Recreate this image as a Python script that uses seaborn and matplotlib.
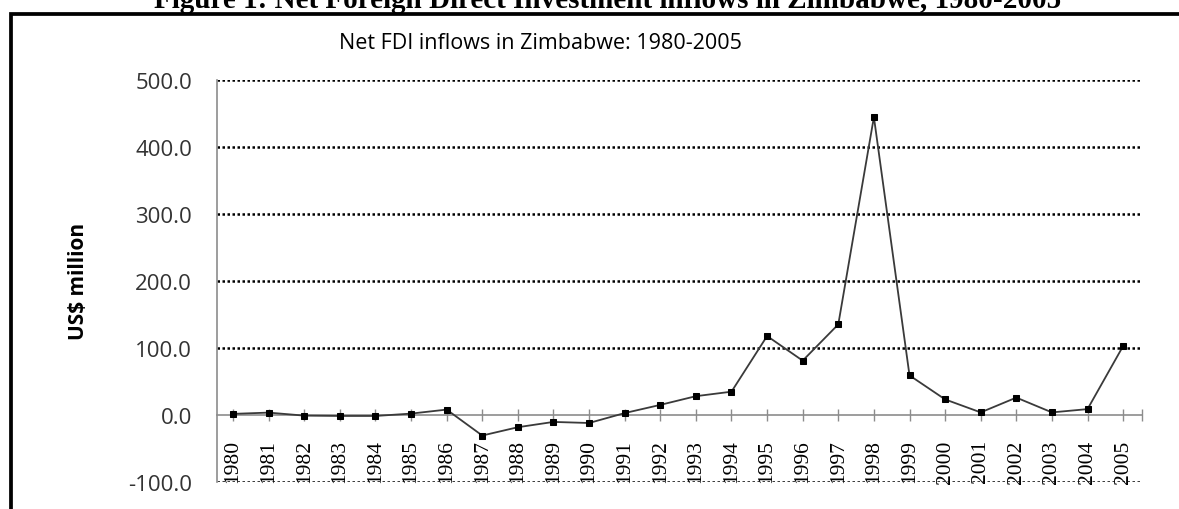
import matplotlib
matplotlib.use("Agg")
import matplotlib.pyplot as plt
from matplotlib.lines import Line2D
import seaborn as sns
import pandas as pd

# Net FDI inflows, Zimbabwe (US$ million)
years = ["1980", "1981", "1982", "1983", "1984", "1985", "1986", "1987", "1988",
         "1989", "1990", "1991", "1992", "1993", "1994", "1995", "1996", "1997",
         "1998", "1999", "2000", "2001", "2002", "2003", "2004", "2005"]
fdi = [1.6, 3.5, -1.0, -1.5, -1.5, 2.0, 8.0, -30.7, -18.3, -10.4, -12.0, 2.8,
       15.0, 28.0, 34.7, 117.7, 81.0, 135.1, 444.3, 59.0, 23.2, 3.8, 25.9, 3.8,
       8.7, 102.8]
y_ticks = [-100, 0, 100, 200, 300, 400, 500]
y_tick_labels = ["-100.0", "0.0", "100.0", "200.0", "300.0", "400.0", "500.0"]

chart_title = "Net FDI inflows in Zimbabwe: 1980-2005"
figure_caption = "Figure 1: Net Foreign Direct Investment inflows in Zimbabwe, 1980-2005"
y_label = "US$ million"

sns.set_style("white")
plt.rcParams["font.family"] = ["Open Sans", "DejaVu Sans"]

W, H = 1179, 510
fig = plt.figure(figsize=(W / 100, H / 100), dpi=100)
ax = fig.add_axes([217 / W, 1 - 483 / H, (1142 - 217) / W, (483 - 80.7) / H])

df = pd.DataFrame({"pos": range(len(years)), "value": fdi})
sns.lineplot(data=df, x="pos", y="value", ax=ax, color="#3a3a3a", linewidth=1.3,
             marker="s", markersize=5, markerfacecolor="black",
             markeredgecolor="black", zorder=4)

x_right = len(years) - 1 + 0.53
ax.set_xlim(-0.45, x_right)
ax.set_ylim(-100, 500)

# spines: the category axis crosses at zero
ax.spines["bottom"].set_position(("data", 0))
ax.spines["bottom"].set_color("#8c8c8c")
ax.spines["bottom"].set_linewidth(1.2)
ax.spines["left"].set_color("#8c8c8c")
ax.spines["left"].set_linewidth(1.2)
ax.spines["top"].set_visible(False)
ax.spines["right"].set_visible(False)

# tick styling
ax.tick_params(axis="y", left=False, length=0, pad=18)
ax.tick_params(axis="x", which="both", bottom=True, direction="inout", length=8,
               width=1, color="#8c8c8c", pad=13.5, labelrotation=90)

# horizontal dotted gridlines
ax.set_yticks(y_ticks)
ax.set_yticklabels(y_tick_labels, fontsize=16, color="#333333")
ax.yaxis.grid(True, color="black", linestyle=(0, (1, 1)), linewidth=1.8, zorder=0)
ax.xaxis.grid(False)
for val, gl in zip(y_ticks, ax.yaxis.get_gridlines()):
    if val == 0:
        gl.set_visible(False)

# year labels
ax.set_xticks([x_right], minor=True)
ax.set_xticks(range(len(years)))
ax.set_xticklabels(years, rotation=90, fontsize=15.5, va="top", ha="center",
                   fontfamily=["Liberation Serif", "DejaVu Serif"], color="black")

ax.set_xlabel("")
ax.set_ylabel(y_label, fontsize=15, fontweight="bold", color="black", labelpad=0)
ax.yaxis.set_label_coords((89 - 217) / (1142 - 217), 0.5)

fig.text(540 / W, 1 - 49 / H, chart_title, ha="center", va="baseline",
         fontsize=15.5, color="black")
fig.text(608 / W, 1 - 8 / H, figure_caption, ha="center", va="baseline",
         fontsize=21, fontweight="bold",
         fontfamily=["Liberation Serif", "DejaVu Serif"], color="black")

# frame around the chart area
fig.add_artist(Line2D([10.5 / W, 10.5 / W, 1.0], [0.0, 1 - 14.5 / H, 1 - 14.5 / H],
                      transform=fig.transFigure, color="black", linewidth=2.7,
                      solid_joinstyle="miter"))

fig.savefig("out.png", dpi=100)
